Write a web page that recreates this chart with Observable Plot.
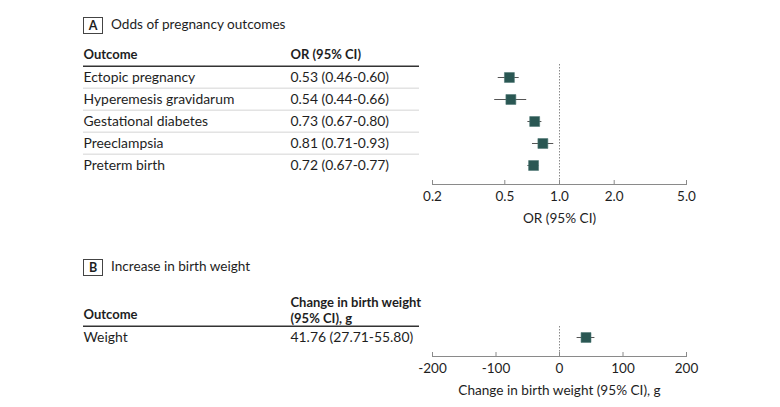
<!DOCTYPE html>
<html><head><meta charset="utf-8">
<script src="https://cdn.jsdelivr.net/npm/d3@7"></script>
<script src="https://cdn.jsdelivr.net/npm/@observablehq/plot@0.6"></script>
<style>
body{margin:0;background:#fff;font-family:Lato,"Open Sans",sans-serif;color:#1e1e1e}
.ttl{position:relative;height:40px}
.box{position:absolute;left:83px;top:17px;width:18px;height:15px;border:1px solid #444;font-weight:bold;font-size:12.5px;text-align:center;line-height:15px}
.t{position:absolute;left:111px;top:15px;font-size:13.6px;line-height:18px}
svg{display:block}
</style></head>
<body>
<div id="A"><div class="ttl"><div class="box">A</div><div class="t">Odds of pregnancy outcomes</div></div></div>
<div id="B"><div class="ttl"><div class="box">B</div><div class="t">Increase in birth weight</div></div></div>
<script>
// ---- Panel A data ----
const outcomesA = ["Ectopic pregnancy", "Hyperemesis gravidarum", "Gestational diabetes", "Preeclampsia", "Preterm birth"];
const orA = [0.53, 0.54, 0.73, 0.81, 0.72];
const lowA = [0.46, 0.44, 0.67, 0.71, 0.67];
const highA = [0.60, 0.66, 0.80, 0.93, 0.77];
const ticksA = [0.2, 0.5, 1.0, 2.0, 5.0];
// ---- Panel B data ----
const outcomesB = ["Weight"];
const changeB = [41.76];
const lowB = [27.71];
const highB = [55.80];
const ticksB = [-200, -100, 0, 100, 200];

const f2 = d => d.toFixed(2);
const dataA = outcomesA.map((o, i) => ({outcome: o, est: orA[i], lo: lowA[i], hi: highA[i], label: `${f2(orA[i])} (${f2(lowA[i])}-${f2(highA[i])})`}));
const dataB = outcomesB.map((o, i) => ({outcome: o, est: changeB[i], lo: lowB[i], hi: highB[i], label: `${f2(changeB[i])} (${f2(lowB[i])}-${f2(highB[i])})`}));

// layout constants
const ML = 432, MR = 94, rowH = 22.7;
const colOutcome = -(ML - 83), colValue = -(ML - 290), tableRight = 267;
const teal = "#2a5753";
const tableFont = 13.9, headFont = 13;

function panel({data, xOpts, ticks, tickFormat, refX, header, axisLabel, height, marginTop, marginBottom}) {
  const n = data.length;
  const frameH = height - marginTop - marginBottom;
  return Plot.plot({
    width: 780, height, marginLeft: ML, marginRight: MR, marginTop, marginBottom,
    style: {fontFamily: "Lato, 'Open Sans', sans-serif", fontSize: "13px", color: "#1e1e1e", background: "white"},
    x: {...xOpts, label: null},
    y: {type: "point", domain: data.map(d => d.outcome), padding: 0.5, insetBottom: frameH - n * rowH, axis: null},
    marks: [
      // header underline
      Plot.ruleY([data[0].outcome], {dy: -rowH / 2, stroke: "#333", strokeWidth: 1.5, insetLeft: colOutcome, insetRight: tableRight}),
      // row separators
      Plot.ruleY(data.slice(1).map(d => d.outcome), {dy: -rowH / 2, stroke: "#d4d4d4", strokeWidth: 1, insetLeft: colOutcome, insetRight: tableRight}),
      // headers
      ...header,
      // table cells
      Plot.text(data, {y: "outcome", text: "outcome", frameAnchor: "left", dx: colOutcome, textAnchor: "start", fill: "#1e1e1e", fontSize: tableFont}),
      Plot.text(data, {y: "outcome", text: "label", frameAnchor: "left", dx: colValue, textAnchor: "start", fill: "#1e1e1e", fontSize: tableFont}),
      // reference line
      Plot.ruleX([refX], {stroke: "#8a8a8a", strokeDasharray: "1.5,1.5", strokeWidth: 1}),
      // axis
      Plot.frame({anchor: "bottom", stroke: "#8a8a8a"}),
      Plot.axisX({ticks, tickFormat, tickSize: -4, tickPadding: 11, stroke: "#8a8a8a", fill: "#1e1e1e", fontSize: 13.5, label: null}),
      Plot.text([axisLabel], {frameAnchor: "bottom", dy: 34, lineAnchor: "middle", fill: "#1e1e1e", fontSize: 13.6}),
      // CI + estimate
      Plot.ruleY(data, {y: "outcome", x1: "lo", x2: "hi", stroke: "#555", strokeWidth: 1}),
      Plot.dot(data, {x: "est", y: "outcome", symbol: "square", r: 5.6, fill: teal, stroke: "#4d7773", strokeWidth: 0.6})
    ]
  });
}

const plotA = panel({
  data: dataA,
  xOpts: {type: "log", domain: [0.2, 5]},
  ticks: ticksA, tickFormat: d => d.toFixed(1), refX: 1,
  header: [
    Plot.text(["Outcome"], {frameAnchor: "top-left", dx: colOutcome, dy: -10, lineAnchor: "middle", textAnchor: "start", fontWeight: "bold", fontSize: headFont}),
    Plot.text(["OR (95% CI)"], {frameAnchor: "top-left", dx: colValue, dy: -10, lineAnchor: "middle", textAnchor: "start", fontWeight: "bold", fontSize: headFont})
  ],
  axisLabel: "OR (95% CI)",
  height: 202, marginTop: 24, marginBottom: 58
});
document.getElementById("A").appendChild(plotA);

const plotB = panel({
  data: dataB,
  xOpts: {type: "linear", domain: [-200, 200]},
  ticks: ticksB, tickFormat: d => d < 0 ? "-" + Math.abs(d) : String(d), refX: 0,
  header: [
    Plot.text(["Outcome"], {frameAnchor: "top-left", dx: colOutcome, dy: -12, lineAnchor: "middle", textAnchor: "start", fontWeight: "bold", fontSize: headFont}),
    Plot.text(["Change in birth weight\n(95% CI), g"], {frameAnchor: "top-left", dx: colValue, dy: -4, lineAnchor: "bottom", textAnchor: "start", fontWeight: "bold", fontSize: headFont, lineHeight: 1.2})
  ],
  axisLabel: "Change in birth weight (95% CI), g",
  height: 125, marginTop: 44, marginBottom: 51
});
document.getElementById("B").appendChild(plotB);
</script>
</body></html>
